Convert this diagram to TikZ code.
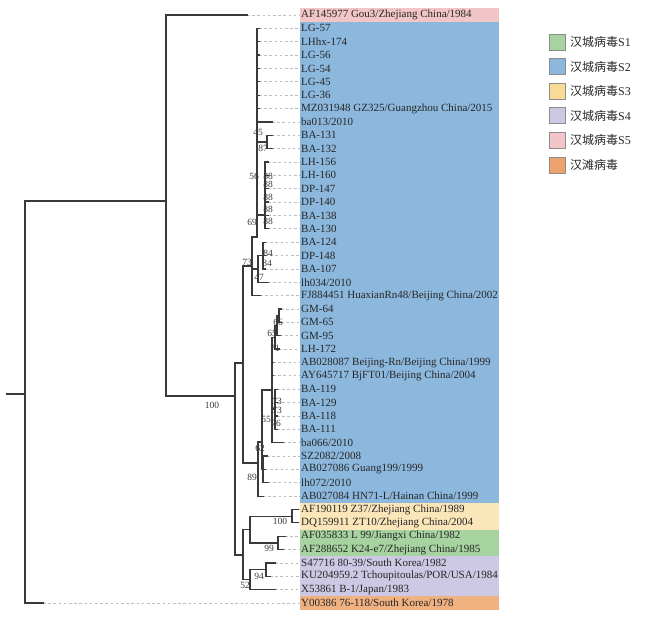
\documentclass[tikz,border=0pt]{standalone}
\usepackage{fontspec}
\setmainfont{Liberation Serif}
\newfontfamily\cjk{Noto Sans CJK SC}
\definecolor{treecol}{HTML}{3A3A3A}
\definecolor{dashcol}{HTML}{BDBDBD}
\definecolor{labcol}{HTML}{262626}
\definecolor{bscol}{HTML}{3A3A3A}
\definecolor{bandSfive}{HTML}{F2C6C8}
\definecolor{bandStwo}{HTML}{8DB8DE}
\definecolor{bandSthree}{HTML}{FBE6BA}
\definecolor{bandSone}{HTML}{A6D3A0}
\definecolor{bandSfour}{HTML}{CDC8E3}
\definecolor{bandHT}{HTML}{F1B282}
\definecolor{legSthree}{HTML}{F9DB98}
\definecolor{legHT}{HTML}{EDA36D}
\newcommand\Y[1]{{15+(#1-1)*13.364}}
\newcommand\lf[3]{%
  \coordinate (e#1) at (#2,\Y{#1});
  \node[lab] (t#1) at (301,\Y{#1}) {#3};
  \draw[lk] (e#1) -- (300,\Y{#1});
}
\begin{document}
\begin{tikzpicture}[x=1pt,y=-1pt,
  br/.style={draw=treecol, line width=1.2pt, line cap=rect},
  lk/.style={draw=dashcol, line width=0.7pt, dash pattern=on 2.6pt off 2.6pt},
  lab/.style={anchor=west, inner sep=0pt, font=\fontsize{11}{11}\selectfont, text=labcol},
  bs/.style={inner sep=0pt, font=\fontsize{9.5}{9.5}\selectfont, text=bscol},
  legbox/.style={draw=black!45, line width=0.6pt, minimum width=16pt, minimum height=16pt, inner sep=0pt},
  legtxt/.style={anchor=west, inner sep=0pt, font=\fontsize{12}{12}\selectfont, text=labcol}]
\useasboundingbox (0,0) rectangle (648,617);
% colour bands
\fill[bandSfive] (300,8.3) rectangle (499,21.7);
\fill[bandStwo] (300,21.7) rectangle (499,502.8);
\fill[bandSthree] (300,502.8) rectangle (499,529.5);
\fill[bandSone] (300,529.5) rectangle (499,556.3);
\fill[bandSfour] (300,556.3) rectangle (499,596.3);
\fill[bandHT] (300,596.3) rectangle (499,609.7);
% leaves
\lf{1}{247}{AF145977 Gou3/Zhejiang China/1984}
\lf{2}{259}{LG-57}
\lf{3}{259}{LHhx-174}
\lf{4}{259}{LG-56}
\lf{5}{259}{LG-54}
\lf{6}{259}{LG-45}
\lf{7}{259}{LG-36}
\lf{8}{259}{MZ031948 GZ325/Guangzhou China/2015}
\lf{9}{272}{ba013/2010}
\lf{10}{272}{BA-131}
\lf{11}{272}{BA-132}
\lf{12}{268}{LH-156}
\lf{13}{268}{LH-160}
\lf{14}{268}{DP-147}
\lf{15}{268}{DP-140}
\lf{16}{268}{BA-138}
\lf{17}{268}{BA-130}
\lf{18}{265}{BA-124}
\lf{19}{265}{DP-148}
\lf{20}{265}{BA-107}
\lf{21}{268}{lh034/2010}
\lf{22}{260}{FJ884451 HuaxianRn48/Beijing China/2002}
\lf{23}{281}{GM-64}
\lf{24}{281}{GM-65}
\lf{25}{280}{GM-95}
\lf{26}{279}{LH-172}
\lf{27}{273}{AB028087 Beijing-Rn/Beijing China/1999}
\lf{28}{273}{AY645717 BjFT01/Beijing China/2004}
\lf{29}{277}{BA-119}
\lf{30}{277}{BA-129}
\lf{31}{277}{BA-118}
\lf{32}{277}{BA-111}
\lf{33}{283}{ba066/2010}
\lf{34}{267}{SZ2082/2008}
\lf{35}{265}{AB027086 Guang199/1999}
\lf{36}{268}{lh072/2010}
\lf{37}{263}{AB027084 HN71-L/Hainan China/1999}
\lf{38}{298}{AF190119 Z37/Zhejiang China/1989}
\lf{39}{298}{DQ159911 ZT10/Zhejiang China/2004}
\lf{40}{285}{AF035833 L 99/Jiangxi China/1982}
\lf{41}{283}{AF288652 K24-e7/Zhejiang China/1985}
\lf{42}{275}{S47716 80-39/South Korea/1982}
\lf{43}{270}{KU204959.2 Tchoupitoulas/POR/USA/1984}
\lf{44}{275}{X53861 B-1/Japan/1983}
\lf{45}{43}{Y00386 76-118/South Korea/1978}
% internal nodes
\coordinate (stub) at (7,394);
\coordinate (R) at (25,394);
\coordinate (H) at (166,201);
\coordinate (B) at (235,396);
\coordinate (S2) at (243,363);
\coordinate (A) at (252,266);
\coordinate (T) at (257,237);
\coordinate (N87) at (267,142);
\coordinate (N88) at (265,215);
\coordinate (N47) at (258,269);
\coordinate (N84) at (263,255.5);
\coordinate (Lw) at (258,463);
\coordinate (M) at (262,442);
\coordinate (P) at (272,390);
\coordinate (GM) at (275,337.4);
\coordinate (G65) at (277,325.7);
\coordinate (G66) at (279,315.7);
\coordinate (BA) at (275,409);
\coordinate (SZ) at (263,469);
\coordinate (N134) at (243,555);
\coordinate (S13) at (250,529.5);
\coordinate (S3) at (292,516.2);
\coordinate (S1) at (278,542.9);
\coordinate (S4) at (250,579.7);
\coordinate (N94) at (266,569.6);
% branches
\draw[br] (stub) -- (R);
\draw[br] (R) |- (H); \draw[br] (R) |- (e45);
\draw[br] (H) |- (e1); \draw[br] (H) |- (B);
\draw[br] (B) |- (S2); \draw[br] (B) |- (N134);
\draw[br] (S2) |- (A); \draw[br] (S2) |- (Lw);
\draw[br] (A) |- (T); \draw[br] (A) |- (N47); \draw[br] (A) |- (e22);
\foreach \i in {2,...,9} {\draw[br] (T) |- (e\i);}
\draw[br] (T) |- (N87); \draw[br] (T) |- (N88);
\draw[br] (N87) |- (e10); \draw[br] (N87) |- (e11);
\foreach \i in {12,...,17} {\draw[br] (N88) |- (e\i);}
\draw[br] (N47) |- (N84); \draw[br] (N47) |- (e21);
\foreach \i in {18,19,20} {\draw[br] (N84) |- (e\i);}
\draw[br] (Lw) |- (M); \draw[br] (Lw) |- (e37);
\draw[br] (M) |- (P); \draw[br] (M) |- (SZ);
\foreach \i in {34,35,36} {\draw[br] (SZ) |- (e\i);}
\draw[br] (P) |- (GM); \draw[br] (P) |- (e27); \draw[br] (P) |- (e28);
\draw[br] (P) |- (BA); \draw[br] (P) |- (e33);
\draw[br] (GM) |- (G65); \draw[br] (GM) |- (e26);
\draw[br] (G65) |- (G66); \draw[br] (G65) |- (e25);
\draw[br] (G66) |- (e23); \draw[br] (G66) |- (e24);
\foreach \i in {29,...,32} {\draw[br] (BA) |- (e\i);}
\draw[br] (N134) |- (S13); \draw[br] (N134) |- (S4);
\draw[br] (S13) |- (S3); \draw[br] (S13) |- (S1);
\draw[br] (S3) |- (e38); \draw[br] (S3) |- (e39);
\draw[br] (S1) |- (e40); \draw[br] (S1) |- (e41);
\draw[br] (S4) |- (N94); \draw[br] (S4) |- (e44);
\draw[br] (N94) |- (e42); \draw[br] (N94) |- (e43);
% bootstrap values
\node[bs] (b1) at (212,405) {100};
\node[bs] (b2) at (258,132) {45};
\node[bs] (b3) at (263,148) {87};
\node[bs] (b4) at (254,176) {56};
\node[bs] (b5) at (268,176) {88};
\node[bs] (b6) at (268,184) {88};
\node[bs] (b7) at (268,197) {88};
\node[bs] (b8) at (268,209) {88};
\node[bs] (b9) at (268,221) {88};
\node[bs] (b10) at (252,222) {69};
\node[bs] (b11) at (268,253) {84};
\node[bs] (b12) at (247,262) {73};
\node[bs] (b13) at (267,263) {84};
\node[bs] (b14) at (259,277) {47};
\node[bs] (b15) at (278,322) {66};
\node[bs] (b16) at (272,333) {65};
\node[bs] (b17) at (275,348) {71};
\node[bs] (b18) at (277,401) {73};
\node[bs] (b19) at (277,410) {73};
\node[bs] (b20) at (266,419) {55};
\node[bs] (b21) at (276,423) {76};
\node[bs] (b22) at (260,448) {62};
\node[bs] (b23) at (252,477) {89};
\node[bs] (b24) at (280,521) {100};
\node[bs] (b25) at (269,548) {99};
\node[bs] (b26) at (259,576) {94};
\node[bs] (b27) at (245,585) {52};
% legend
\node[legbox, fill=bandSone] (k1) at (557,42) {};
\node[legbox, fill=bandStwo] (k2) at (557,66.6) {};
\node[legbox, fill=legSthree] (k3) at (557,91.2) {};
\node[legbox, fill=bandSfour] (k4) at (557,115.8) {};
\node[legbox, fill=bandSfive] (k5) at (557,140.4) {};
\node[legbox, fill=legHT] (k6) at (557,165) {};
\node[legtxt] (g1) at (570,42) {{\cjk 汉城病毒}S1};
\node[legtxt] (g2) at (570,66.6) {{\cjk 汉城病毒}S2};
\node[legtxt] (g3) at (570,91.2) {{\cjk 汉城病毒}S3};
\node[legtxt] (g4) at (570,115.8) {{\cjk 汉城病毒}S4};
\node[legtxt] (g5) at (570,140.4) {{\cjk 汉城病毒}S5};
\node[legtxt] (g6) at (570,165) {{\cjk 汉滩病毒}};
\end{tikzpicture}
\end{document}
